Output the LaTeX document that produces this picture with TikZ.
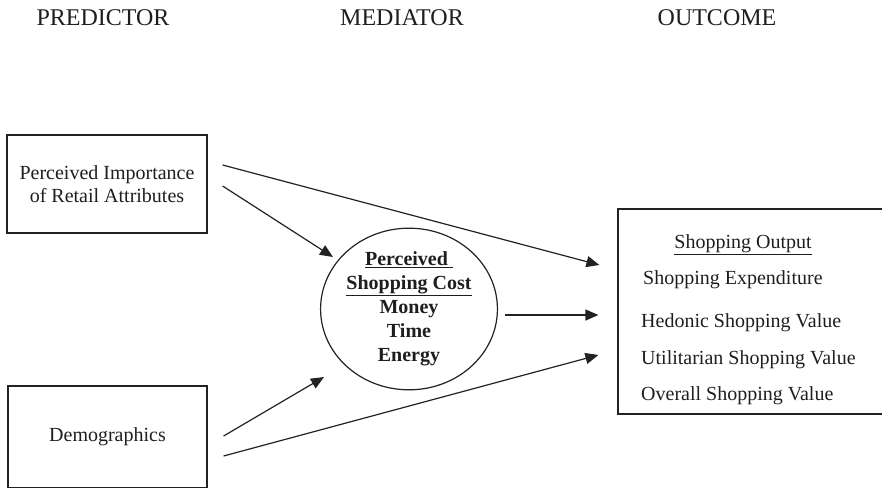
\documentclass[tikz,border=0pt]{standalone}
\usepackage{fontspec}
\setmainfont{Liberation Serif}
\usepackage{tikz}
\usetikzlibrary{calc, positioning, shapes.geometric, arrows.meta}
\definecolor{inkLine}{HTML}{222222}
\definecolor{inkText}{HTML}{1E1E1E}

\tikzset{
  heading/.style={font=\fontsize{24}{28}\selectfont, text=inkText, anchor=base},
  varbox/.style={draw=inkLine, line width=1.2pt, align=center, inner sep=0pt,
                 font=\fontsize{20}{23}\selectfont, text=inkText},
  costoval/.style={draw=inkLine, line width=1.2pt, ellipse, inner sep=0pt,
                   minimum width=172pt, minimum height=140pt, align=center,
                   font=\fontsize{20}{24}\selectfont\bfseries, text=inkText},
  outitem/.style={font=\fontsize{20}{23}\selectfont, text=inkText, inner sep=0pt},
  link/.style={draw=inkLine, line width=1.2pt, -{Triangle[length=13pt, width=11pt]}}
}

\begin{document}
\begin{tikzpicture}[x=1pt, y=-1pt]
  \useasboundingbox (0,0) rectangle (882,487);
  \clip (0,0) rectangle (882,487);

  % column headings
  \node[heading] (hPred) at (103,26) {PREDICTOR};
  \node[heading] (hMed)  at (402,26) {MEDIATOR};
  \node[heading] (hOut)  at (717,26) {OUTCOME};

  % predictors
  \node[varbox, minimum width=200pt, minimum height=98pt] (attr) at (107,184)
    {Perceived Importance\\of Retail Attributes};
  \node[varbox, minimum width=199pt, minimum height=102pt] (demo) at (107.5,437)
    {Demographics};

  % mediator
  \node[costoval] (cost) at (409,309)
    {\underline{Perceived\ }\\\underline{Shopping Cost}\\Money\\Time\\Energy};

  % outcome (right side runs off the page)
  \node[draw=inkLine, line width=1.2pt, minimum width=272pt, minimum height=205pt,
        inner sep=0pt] (outcome) at (754,311.5) {};
  \node[outitem] (outHead) at (743,245) {\underline{Shopping Output}};
  \node[outitem, anchor=west] (outExp) at (643,280) {Shopping Expenditure};
  \node[outitem, anchor=west] (outHed) at (641,323) {Hedonic Shopping Value};
  \node[outitem, anchor=west] (outUti) at (641,360) {Utilitarian Shopping Value};
  \node[outitem, anchor=west] (outAll) at (641,396) {Overall Shopping Value};

  % paths
  \draw[link] ($(attr.east)+(15,-19)$) -- ($(outcome.west)+(-18,-46.5)$);
  \draw[link] ($(attr.east)+(15,2)$)   -- ($(cost.center)+(-76,-52)$);
  \draw[link] ($(cost.center)+(96,6)$) -- ($(outcome.west)+(-19,3.5)$);
  \draw[link] ($(demo.east)+(16,-1)$)  -- ($(cost.center)+(-85,68)$);
  \draw[link] ($(demo.east)+(16,19)$)  -- ($(outcome.west)+(-19,43.5)$);
\end{tikzpicture}
\end{document}
